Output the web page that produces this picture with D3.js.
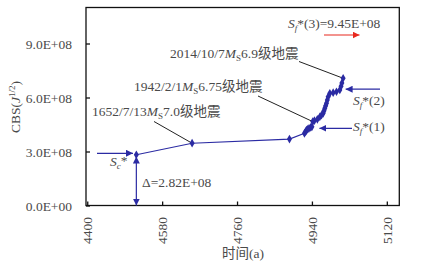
<!DOCTYPE html>
<html><head><meta charset="utf-8">
<script src="https://cdn.jsdelivr.net/npm/d3@7"></script>
<style>
body{margin:0;background:#fff;}
text{font-family:"Liberation Serif","Noto Sans CJK SC",serif;fill:#4a4a4a;}
</style></head><body>
<svg id="c" width="427" height="270"></svg>
<script>
// data: time (a) and CBS values
const times = [4518,4652,4886,4922,4925,4927,4930,4933,4937,4940,4942,4946,4953,4959,4963,4967,4969,4971,4973,4975,4977,4979,4983,4991,4999,5007,5010,5012,5015];
const cbs   = [2.82e8,3.46e8,3.69e8,4.01e8,4.10e8,4.19e8,4.24e8,4.29e8,4.34e8,4.37e8,4.66e8,4.72e8,4.79e8,4.93e8,5.02e8,5.12e8,5.26e8,5.40e8,5.54e8,5.68e8,5.86e8,6.04e8,6.23e8,6.27e8,6.32e8,6.42e8,6.62e8,6.80e8,7.07e8];
const xTicks = [4400,4580,4760,4940,5120];
const yTicks = [0,3e8,6e8,9e8];
const yTickLabels = ["0.0E+00","3.0E+08","6.0E+08","9.0E+08"];

const svg = d3.select("#c");
const L=86, R=399.3, T=7.5, B=205.5;
const x = d3.scaleLinear().domain([4397,5150]).range([L,R]);
const y = d3.scaleLinear().domain([0,1.1e9]).range([B,T]);
const blue="#2b2ba3";

// frame
svg.append("rect").attr("x",L).attr("y",T).attr("width",R-L).attr("height",B-T)
  .attr("fill","none").attr("stroke","#111").attr("stroke-width",1.3);

// axes with inward ticks
const gx = svg.append("g").attr("transform",`translate(0,${B})`)
  .call(d3.axisBottom(x).tickValues(xTicks).tickSize(-4).tickFormat(""));
gx.select(".domain").remove();
gx.selectAll("line").attr("stroke","#111").attr("stroke-width",1.3);
xTicks.forEach(t=>{
  svg.append("text").attr("transform",`translate(${x(t)+5},217) rotate(-90)`)
    .attr("text-anchor","end").attr("font-size",13.5).text(t);
});
const gy = svg.append("g").attr("transform",`translate(${L},0)`)
  .call(d3.axisLeft(y).tickValues(yTicks).tickSize(-4).tickFormat((d,i)=>yTickLabels[i]).tickPadding(14));
gy.select(".domain").remove();
gy.selectAll("line").attr("stroke","#111").attr("stroke-width",1.3);
gy.selectAll("text").attr("font-size",13.5).attr("fill","#4a4a4a")
  .attr("font-family","Liberation Serif").attr("dy","0.35em");

// axis titles
const yl = svg.append("text").attr("transform","translate(20,107) rotate(-90)")
  .attr("text-anchor","middle").attr("font-size",13.5);
yl.append("tspan").text("CBS(");
yl.append("tspan").attr("font-style","italic").text("J");
yl.append("tspan").attr("font-size",9).attr("dy",-5).text("1/2");
yl.append("tspan").attr("dy",5).text(")");
svg.append("text").attr("x",243).attr("y",258).attr("text-anchor","middle")
  .attr("font-size",13.5).text("时间(a)");

// arrow markers
const defs = svg.append("defs");
function mk(id,color){
  defs.append("marker").attr("id",id).attr("viewBox","0 0 10 10").attr("refX",10).attr("refY",5)
   .attr("markerWidth",7).attr("markerHeight",7).attr("markerUnits","userSpaceOnUse").attr("orient","auto-start-reverse")
   .append("path").attr("d","M0,0L10,5L0,10Z").attr("fill",color);
}
mk("ab",blue); mk("ar","#e8281e");

// leader lines (black)
function leader(x1,y1,t,v){
  svg.append("line").attr("x1",x1).attr("y1",y1).attr("x2",x(t)).attr("y2",y(v))
    .attr("stroke","#222").attr("stroke-width",1);
}
leader(154,121.5,4652,3.46e8);
leader(258,96,4942,4.66e8);
leader(299,61.5,5015,7.07e8);

// series line and markers
const pts = times.map((t,i)=>[t,cbs[i]]);
svg.append("path").datum(pts).attr("fill","none").attr("stroke",blue).attr("stroke-width",1.1)
  .attr("d",d3.line().x(d=>x(d[0])).y(d=>y(d[1])));
svg.selectAll(".pt").data(pts).enter().append("path")
  .attr("transform",d=>`translate(${x(d[0])},${y(d[1])})`)
  .attr("d",d3.symbol(d3.symbolDiamond,22)).attr("fill",blue);

// annotation text helper
function label(xp,yp,parts,anchor){
  const t=svg.append("text").attr("x",xp).attr("y",yp).attr("font-size",13.5)
    .attr("text-anchor",anchor||"start");
  parts.forEach(p=>{
    const s=t.append("tspan").text(p.t);
    if(p.i) s.attr("font-style","italic");
    if(p.sub){ s.attr("font-size",9).attr("dy",3); }
    if(p.dy!==undefined) s.attr("dy",p.dy);
  });
  return t;
}
label(92,115.5,[{t:"1652/7/13"},{t:"M",i:1},{t:"S",sub:1},{t:"7.0级地震",dy:-3}]);
label(134,91,[{t:"1942/2/1"},{t:"M",i:1},{t:"S",sub:1},{t:"6.75级地震",dy:-3}]);
label(170,57.5,[{t:"2014/10/7"},{t:"M",i:1},{t:"S",sub:1},{t:"6.9级地震",dy:-3}]);

// Sc* arrow and label
svg.append("line").attr("x1",97).attr("y1",y(2.9e8)).attr("x2",x(4510)).attr("y2",y(2.9e8))
  .attr("stroke",blue).attr("stroke-width",1.2).attr("marker-end","url(#ab)");
label(110,166,[{t:"S",i:1},{t:"c",i:1,sub:1},{t:"*",dy:-4}]);

// Delta double arrow
svg.append("line").attr("x1",x(4518)).attr("y1",y(2.72e8)).attr("x2",x(4518)).attr("y2",B)
  .attr("stroke",blue).attr("stroke-width",1.2).attr("marker-start","url(#ab)").attr("marker-end","url(#ab)");
label(142,186.5,[{t:"Δ=2.82E+08"}]);

// Sf*(1)
svg.append("line").attr("x1",352).attr("y1",y(4.29e8)).attr("x2",x(4958)).attr("y2",y(4.29e8))
  .attr("stroke",blue).attr("stroke-width",1.2).attr("marker-end","url(#ab)");
label(353,131,[{t:"S",i:1},{t:"f",i:1,sub:1},{t:"*",dy:-3},{t:"(1)"}]);
// Sf*(2)
svg.append("line").attr("x1",380).attr("y1",y(6.46e8)).attr("x2",x(5021)).attr("y2",y(6.46e8))
  .attr("stroke",blue).attr("stroke-width",1.2).attr("marker-end","url(#ab)");
label(353,104.5,[{t:"S",i:1},{t:"f",i:1,sub:1},{t:"*",dy:-3},{t:"(2)"}]);
// Sf*(3)
label(288,27.5,[{t:"S",i:1},{t:"f",i:1,sub:1},{t:"*",dy:-3},{t:"(3)=9.45E+08"}]);
svg.append("line").attr("x1",324).attr("y1",35).attr("x2",359.5).attr("y2",35)
  .attr("stroke","#e8281e").attr("stroke-width",1.2).attr("marker-end","url(#ar)");
</script></body></html>
